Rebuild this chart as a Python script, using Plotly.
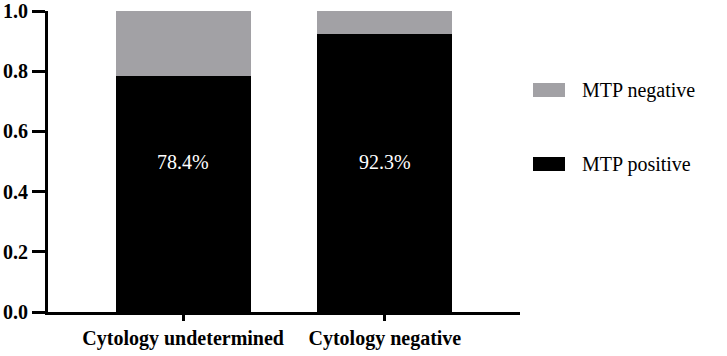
import plotly.graph_objects as go

categories = ["Cytology undetermined", "Cytology negative"]
mtp_positive = [0.784, 0.923]
mtp_negative = [0.216, 0.077]
pct_labels = ["78.4%", "92.3%"]
y_ticks = [0.0, 0.2, 0.4, 0.6, 0.8, 1.0]
legend_names = ["MTP negative", "MTP positive"]

BLACK = "#000000"
GRAY = "#A2A1A5"
FONT = "Liberation Serif"

fig = go.Figure()
fig.add_trace(go.Bar(x=categories, y=mtp_positive, name="MTP positive",
                     marker=dict(color=BLACK, line=dict(width=0)), width=0.67))
fig.add_trace(go.Bar(x=categories, y=mtp_negative, name="MTP negative",
                     marker=dict(color=GRAY, line=dict(width=0)), width=0.67))

for c, t in zip(categories, pct_labels):
    fig.add_annotation(x=c, y=0.5, text=t, showarrow=False,
                       font=dict(family=FONT, size=20, color="white"))

# manual legend
legend_colors = [GRAY, BLACK]
legend_y = [90, 164]
for name, col, yc in zip(legend_names, legend_colors, legend_y):
    fig.add_shape(type="rect", xref="paper", yref="paper",
                  x0=(533 - 48) / 472, x1=(565 - 48) / 472,
                  y0=(312 - (yc + 7)) / 301, y1=(312 - (yc - 7)) / 301,
                  fillcolor=col, line=dict(width=0))
    fig.add_annotation(xref="paper", yref="paper", x=(580 - 48) / 472,
                       y=(312 - yc) / 301, text=name, showarrow=False,
                       xanchor="left", yanchor="middle",
                       font=dict(family=FONT, size=20, color="black"))

fig.update_layout(
    barmode="stack",
    width=727, height=356,
    margin=dict(l=48, r=207, t=11, b=44, autoexpand=False),
    plot_bgcolor="white", paper_bgcolor="white",
    showlegend=False,
    xaxis=dict(range=[-0.67, 1.67], showline=True, linecolor="black", linewidth=3,
               ticks="outside", ticklen=6, tickwidth=3, tickcolor="black",
               tickangle=0, automargin=False,
               tickvals=categories, ticktext=[f"<b>{c}</b>" for c in categories],
               tickfont=dict(family=FONT, size=20, color="black"),
               showgrid=False, zeroline=False),
    yaxis=dict(range=[0, 1.0005], tickvals=y_ticks,
               ticktext=[f"<b>{v:.1f}</b>" for v in y_ticks],
               showline=True, linecolor="black", linewidth=3,
               ticks="outside", ticklen=13, tickwidth=3, tickcolor="black",
               automargin=False, ticklabeloverflow="allow",
               tickfont=dict(family=FONT, size=20, color="black"),
               showgrid=False, zeroline=False),
)

fig.write_html("out.html")
